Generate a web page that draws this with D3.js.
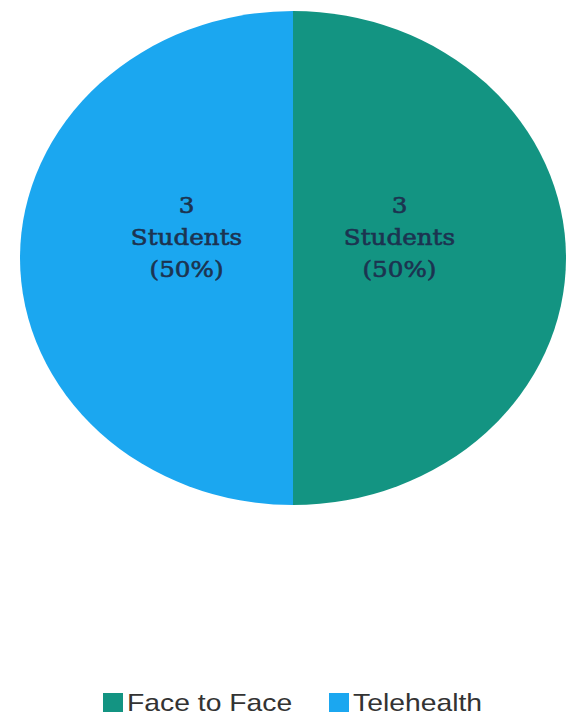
<!DOCTYPE html>
<html><head><meta charset="utf-8">
<script src="https://cdn.jsdelivr.net/npm/d3@7"></script>
<style>html,body{margin:0;padding:0;background:#fff;}</style>
</head><body>
<script>
const categories = ["Face to Face", "Telehealth"];
const values = [3, 3];
const colors = ["#139482", "#1ba7f0"];

const W = 577, H = 716;
const cx = 293, cy = 258, rx = 273, ry = 247;
const svg = d3.select("body").append("svg").attr("width", W).attr("height", H);

const total = d3.sum(values);
const pie = d3.pie().sort(null).value(d => d.v);
const arcs = pie(categories.map((c, i) => ({c, v: values[i], col: colors[i]})));
const arc = d3.arc().innerRadius(0).outerRadius(ry);
const labelArc = d3.arc().innerRadius(ry * 0.39).outerRadius(ry * 0.39);

const g = svg.append("g").attr("transform", `translate(${cx},${cy}) scale(${rx / ry},1)`);
g.selectAll("path").data(arcs).join("path")
  .attr("d", arc).attr("fill", d => d.data.col);

const lg = svg.append("g").attr("transform", `translate(${cx},${cy})`);
arcs.forEach(d => {
  const [x, y] = labelArc.centroid(d);
  const t = lg.append("text")
    .attr("transform", `translate(${x * rx / ry},${y - 45}) scale(1.12,1)`)
    .attr("text-anchor", "middle")
    .attr("font-family", "'DejaVu Serif', serif")
    .attr("font-size", 22)
    .attr("fill", "#1c3350")
    .attr("stroke", "#1c3350")
    .attr("stroke-width", 0.6);
  const lines = [String(d.data.v), "Students", `(${Math.round(d.data.v / total * 100)}%)`];
  lines.forEach((s, i) => t.append("tspan").attr("x", 0).attr("y", i * 32).text(s));
});

// legend
const legX = [103, 329];
const leg = svg.append("g");
categories.forEach((c, i) => {
  const gi = leg.append("g").attr("transform", `translate(${legX[i]},693)`);
  gi.append("rect").attr("width", 20).attr("height", 19).attr("fill", colors[i]);
  gi.append("text").attr("transform", "translate(24,18) scale(1.18,1)")
    .attr("font-family", "'Liberation Sans', Arial, sans-serif")
    .attr("font-size", 24).attr("fill", "#333").text(c);
});
</script>
</body></html>
